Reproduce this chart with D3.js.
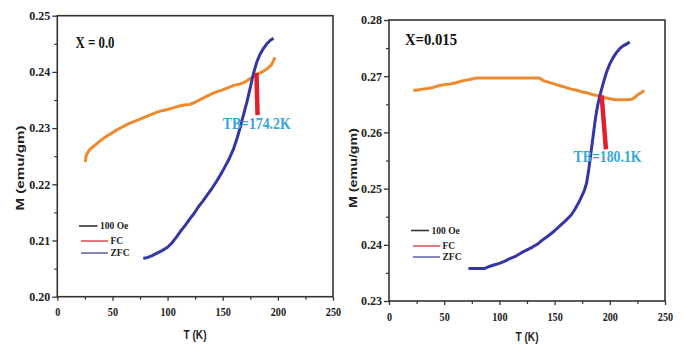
<!DOCTYPE html>
<html><head><meta charset="utf-8">
<script src="https://cdn.jsdelivr.net/npm/d3@7"></script>
<style>html,body{margin:0;padding:0;background:#fff;}svg{display:block;}</style>
</head><body>
<svg id="c" width="685" height="345"></svg>
<script>
// ---- data ----
const xTicks = [0, 50, 100, 150, 200, 250];
const xMinor = [25, 75, 125, 175, 225];
const yTicksA = [0.20, 0.21, 0.22, 0.23, 0.24, 0.25];
const yTicksB = [0.23, 0.24, 0.25, 0.26, 0.27, 0.28];
const legendLabels = ["100 Oe", "FC", "ZFC"];
const panelLabels = ["X = 0.0", "X=0.015"];
const tbLabels = ["TB=174.2K", "TB=180.1K"];

const fcA = [[25.5,0.2240],[26,0.2250],[28,0.2258],[30,0.2263],[35,0.2271],[40,0.2279],[45,0.2286],[50,0.2292],[55,0.2298],[60,0.2303],[65,0.2308],[70,0.2312],[75,0.2316],[80,0.2320],[85,0.2324],[90,0.2328],[95,0.2331],[100,0.2333],[105,0.2336],[110,0.2339],[115,0.2341],[120,0.2342],[125,0.2346],[130,0.2351],[135,0.2356],[140,0.2361],[145,0.2365],[150,0.2368],[155,0.2372],[160,0.2376],[165,0.2378],[170,0.2382],[175,0.2388],[180,0.2395],[185,0.2399],[190,0.2405],[194,0.2412],[196,0.2420],[197.5,0.2426]];
const zfcA = [[78,0.2068],[82,0.2070],[86,0.2073],[90,0.2077],[95,0.2082],[100,0.2088],[104,0.2096],[108,0.2106],[112,0.2117],[116,0.2127],[120,0.2138],[124,0.2148],[128,0.2160],[132,0.2170],[136,0.2181],[140,0.2192],[144,0.2204],[148,0.2217],[152,0.2231],[156,0.2246],[160,0.2264],[163,0.2282],[166,0.2302],[169,0.2325],[172,0.2347],[175,0.2372],[177,0.2390],[179,0.2405],[181,0.2418],[184,0.2432],[187,0.2442],[190,0.2450],[193,0.2456],[196,0.2460]];
const tbA = [[180.6,0.2398],[181.6,0.2323]];

const fcB = [[22,0.2675],[25,0.2675],[30,0.2677],[35,0.2678],[40,0.2680],[45,0.2683],[50,0.2685],[55,0.2686],[60,0.2688],[65,0.2691],[70,0.2693],[75,0.2695],[80,0.2697],[90,0.2697],[100,0.2697],[110,0.2697],[120,0.2697],[130,0.2697],[136,0.2697],[140,0.2692],[145,0.2689],[150,0.2686],[155,0.2683],[160,0.2680],[165,0.2677],[170,0.2675],[175,0.2672],[180,0.2670],[185,0.2667],[190,0.2665],[195,0.2662],[200,0.2660],[205,0.2658],[210,0.2658],[215,0.2658],[220,0.2659],[223,0.2663],[226,0.2668],[229,0.2671],[231,0.2675]];
const zfcB = [[72,0.2358],[80,0.2358],[87,0.2358],[90,0.2361],[95,0.2364],[100,0.2367],[105,0.2371],[110,0.2376],[115,0.2380],[120,0.2386],[125,0.2391],[130,0.2396],[135,0.2402],[140,0.2410],[145,0.2417],[150,0.2425],[155,0.2434],[160,0.2443],[165,0.2453],[168,0.2462],[171,0.2472],[174,0.2484],[177,0.2497],[179,0.2510],[181,0.2535],[183,0.2565],[185,0.2595],[187,0.2625],[189,0.2648],[191,0.2665],[193,0.2680],[195,0.2694],[197,0.2707],[200,0.2722],[203,0.2733],[206,0.2742],[209,0.2749],[212,0.2754],[215,0.2757],[218,0.2761]];
const tbB = [[192.6,0.2666],[196.5,0.2570]];

// ---- drawing ----
const svg = d3.select("#c");
svg.append("rect").attr("width",685).attr("height",345).attr("fill","#fff");
const serif = "'Liberation Serif','Times New Roman',serif";
const sans = "'Liberation Sans',Arial,sans-serif";

function panel(o){
  const x = d3.scaleLinear().domain([0,250]).range([o.l, o.r]);
  const y = d3.scaleLinear().domain([o.yt[0], o.yt[o.yt.length-1]]).range([o.b, o.t]);
  const g = svg.append("g");

  // minor ticks
  const yMinor = o.yt.slice(0,-1).map(v => v + 0.005);
  g.append("g").attr("transform",`translate(${o.l},0)`)
    .call(d3.axisLeft(y).tickValues(yMinor).tickSize(3).tickFormat(""))
    .call(s => s.select(".domain").remove())
    .selectAll("line").attr("stroke","#333").attr("stroke-width",1.2);
  g.append("g").attr("transform",`translate(0,${o.b})`)
    .call(d3.axisBottom(x).tickValues(xMinor).tickSize(3).tickFormat(""))
    .call(s => s.select(".domain").remove())
    .selectAll("line").attr("stroke","#333").attr("stroke-width",1.2);

  // major ticks
  const ya = g.append("g").attr("transform",`translate(${o.l},0)`)
    .call(d3.axisLeft(y).tickValues(o.yt).tickSize(5).tickPadding(2).tickFormat(d3.format(".2f")));
  ya.select(".domain").remove();
  ya.selectAll("line").attr("stroke","#333").attr("stroke-width",1.3);
  ya.selectAll("text").attr("font-family",serif).attr("font-weight","bold").attr("font-size",12).attr("fill","#222");
  const xa = g.append("g").attr("transform",`translate(0,${o.b})`)
    .call(d3.axisBottom(x).tickValues(xTicks).tickSize(4).tickPadding(7));
  xa.select(".domain").remove();
  xa.selectAll("line").attr("stroke","#333").attr("stroke-width",1.3);
  xa.selectAll("text").attr("font-family",serif).attr("font-weight","bold").attr("font-size",12).attr("fill","#222")
    .attr("transform","scale(0.85,1)");

  // frame
  g.append("rect").attr("x",o.l).attr("y",o.t).attr("width",o.r-o.l).attr("height",o.b-o.t)
    .attr("fill","none").attr("stroke","#333").attr("stroke-width",1.6);

  const line = d3.line().x(d => x(d[0])).y(d => y(d[1]));
  g.append("path").datum(o.fc).attr("d",line).attr("fill","none").attr("stroke","#ee8a2e").attr("stroke-width",3).attr("stroke-linejoin","round");
  g.append("path").datum(o.zfc).attr("d",line).attr("fill","none").attr("stroke","#3535a5").attr("stroke-width",3).attr("stroke-linejoin","round");
  g.append("path").datum(o.tb).attr("d",line).attr("fill","none").attr("stroke","#e0202c").attr("stroke-width",4.5);

  // labels
  g.append("text").attr("x",o.pl[0]).attr("y",o.pl[1]).text(o.plabel)
    .attr("font-family",serif).attr("font-weight","bold").attr("font-size",16).attr("fill","#111")
    .attr("textLength",o.pl[2]).attr("lengthAdjust","spacingAndGlyphs");
  g.append("text").attr("x",o.tbp[0]).attr("y",o.tbp[1]).text(o.tblabel)
    .attr("font-family",serif).attr("font-weight","bold").attr("font-size",17).attr("fill","#36a7d4")
    .attr("textLength",68).attr("lengthAdjust","spacingAndGlyphs");

  // legend
  const lc = ["#333","#d85a5a","#6a6ab0"];
  legendLabels.forEach((lab,i) => {
    const L = o.leg[i];
    g.append("line").attr("x1",L[0]).attr("x2",L[1]).attr("y1",L[2]).attr("y2",L[2]).attr("stroke",lc[i]).attr("stroke-width",1.6);
    g.append("text").attr("x",L[1]+2.5).attr("y",L[2]+3).text(lab)
      .attr("font-family",serif).attr("font-weight","bold").attr("font-size",9.5).attr("fill","#222");
  });

  // axis titles
  g.append("text").attr("transform",`translate(${o.yt_x},${o.yt_y}) rotate(-90)`).attr("text-anchor","middle")
    .text("M (emu/gm)").attr("font-family",sans).attr("font-weight","bold").attr("font-size",11.5).attr("fill","#222")
    .attr("textLength",o.ytl).attr("lengthAdjust","spacingAndGlyphs");
  g.append("text").attr("x",o.xt[0]).attr("y",o.xt[1]).attr("text-anchor","middle")
    .text("T (K)").attr("font-family",sans).attr("font-weight","bold").attr("font-size",12.5).attr("fill","#222")
    .attr("textLength",23).attr("lengthAdjust","spacingAndGlyphs");
}

panel({l:57.3, r:333, t:15.7, b:296.7, yt:yTicksA, fc:fcA, zfc:zfcA, tb:tbA,
  plabel:panelLabels[0], pl:[75.5,48,39], tblabel:tbLabels[0], tbp:[222.7,129],
  leg:[[79,97.5,226],[81,108,241],[81,108,253]], yt_x:24, yt_y:168, ytl:85, xt:[195,339]});
panel({l:389, r:665, t:20, b:301, yt:yTicksB, fc:fcB, zfc:zfcB, tb:tbB,
  plabel:panelLabels[1], pl:[405,45,52], tblabel:tbLabels[1], tbp:[573.5,161.5],
  leg:[[411,429,230.5],[413,440,246],[413,440,257]], yt_x:357, yt_y:168, ytl:80, xt:[527,341]});
</script>
</body></html>
